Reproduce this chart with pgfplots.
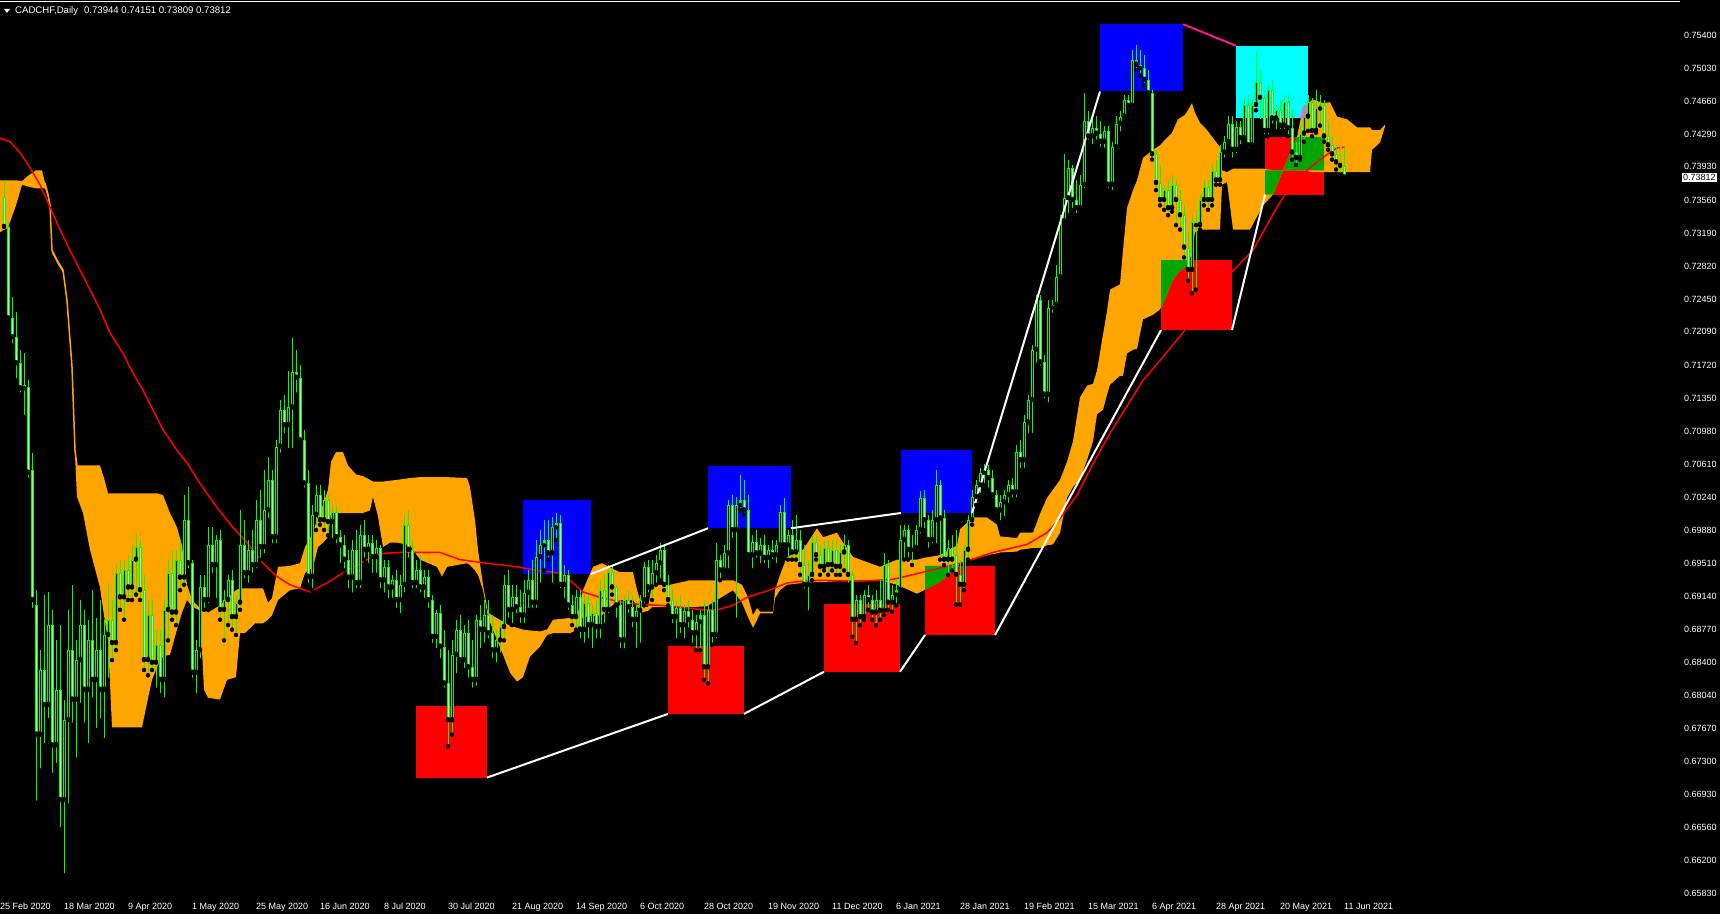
\documentclass[border=0pt]{standalone}
\usepackage{fontspec}
\setmainfont{Liberation Sans}
\usepackage{pgfplots}
\usepackage{pgfplotstable}
\pgfplotsset{compat=1.18}
\usepgfplotslibrary{fillbetween}

\definecolor{bar}{RGB}{0,255,0}
\definecolor{bearfill}{RGB}{200,245,200}
\definecolor{kumo}{RGB}{255,165,0}
\definecolor{kumored}{RGB}{0,165,0}
\definecolor{kumocyan}{RGB}{255,90,255}
\definecolor{boxred}{RGB}{255,0,0}
\definecolor{boxblue}{RGB}{0,0,255}
\definecolor{boxcyan}{RGB}{0,255,255}
\definecolor{deeppink}{RGB}{255,20,147}
\newcommand\mt{\fontsize{9}{10}\selectfont}

% daily OHLC, x = bar position on the chart
\pgfplotstableread{
x o h l c
4 0.7359 0.7378 0.7320 0.7326
8 0.7326 0.7332 0.7220 0.7224
12 0.7224 0.7248 0.7194 0.7203
16 0.7203 0.7231 0.7155 0.7174
20 0.7174 0.7189 0.7139 0.7146
24 0.7146 0.7185 0.7114 0.7150
28 0.7148 0.7155 0.7044 0.7052
32 0.7055 0.7074 0.6899 0.6910
36 0.6904 0.6921 0.6684 0.6760
40 0.6760 0.6854 0.6720 0.6832
44 0.6832 0.6916 0.6748 0.6793
48 0.6793 0.6919 0.6776 0.6882
52 0.6882 0.6899 0.6715 0.6748
56 0.6748 0.6865 0.6726 0.6810
60 0.6810 0.6882 0.6654 0.6687
64 0.6687 0.6799 0.6603 0.6776
68 0.6776 0.6899 0.6681 0.6854
72 0.6854 0.6927 0.6771 0.6799
76 0.6799 0.6865 0.6732 0.6843
80 0.6843 0.6910 0.6793 0.6882
84 0.6882 0.6899 0.6771 0.6810
88 0.6810 0.6888 0.6748 0.6865
92 0.6865 0.6921 0.6799 0.6821
96 0.6821 0.6890 0.6765 0.6854
100 0.6854 0.6910 0.6776 0.6810
104 0.6810 0.6888 0.6754 0.6871
108 0.6871 0.6929 0.6821 0.6888
112 0.6888 0.6910 0.6843 0.6862
116 0.6862 0.6949 0.6854 0.6940
120 0.6940 0.6955 0.6899 0.6913
124 0.6913 0.6955 0.6888 0.6943
128 0.6943 0.6960 0.6910 0.6924
132 0.6924 0.6971 0.6910 0.6955
136 0.6955 0.6985 0.6916 0.6969
140 0.6969 0.6977 0.6910 0.6921
144 0.6921 0.6938 0.6832 0.6843
148 0.6843 0.6910 0.6826 0.6893
152 0.6893 0.6910 0.6832 0.6840
156 0.6840 0.6877 0.6810 0.6860
160 0.6860 0.6877 0.6804 0.6821
164 0.6821 0.6910 0.6799 0.6899
168 0.6899 0.6955 0.6865 0.6940
172 0.6940 0.6966 0.6888 0.6896
176 0.6896 0.6966 0.6882 0.6955
180 0.6955 0.6977 0.6921 0.6935
184 0.6935 0.7027 0.6927 0.6999
188 0.6999 0.7036 0.6943 0.6951
192 0.6951 0.6955 0.6821 0.6829
196 0.6829 0.6865 0.6804 0.6854
200 0.6854 0.6938 0.6843 0.6924
204 0.6924 0.6938 0.6899 0.6910
208 0.6910 0.6991 0.6904 0.6971
212 0.6971 0.6991 0.6938 0.6949
216 0.6949 0.6982 0.6910 0.6977
220 0.6977 0.6988 0.6888 0.6899
224 0.6899 0.6921 0.6865 0.6910
228 0.6910 0.6938 0.6882 0.6932
232 0.6932 0.6943 0.6877 0.6891
236 0.6891 0.6916 0.6871 0.6907
240 0.6907 0.7010 0.6899 0.6971
244 0.6971 0.6999 0.6932 0.6940
248 0.6940 0.6977 0.6927 0.6966
252 0.6966 0.6988 0.6938 0.6949
256 0.6949 0.7022 0.6943 0.6999
260 0.6999 0.7033 0.6955 0.6969
264 0.6969 0.7055 0.6960 0.7010
268 0.7010 0.7069 0.6999 0.7044
272 0.7044 0.7055 0.6971 0.6980
276 0.6980 0.7088 0.6971 0.7081
280 0.7081 0.7133 0.7072 0.7122
284 0.7122 0.7139 0.7094 0.7105
288 0.7105 0.7165 0.7077 0.7125
292 0.7125 0.7202 0.7077 0.7164
296 0.7164 0.7189 0.7139 0.7158
300 0.7158 0.7172 0.7083 0.7088
304 0.7088 0.7100 0.7033 0.7040
308 0.7040 0.7055 0.6927 0.6936
312 0.6936 0.7016 0.6921 0.7005
316 0.7005 0.7038 0.6988 0.7027
320 0.7027 0.7038 0.6994 0.6999
324 0.6999 0.7033 0.6988 0.7022
328 0.7022 0.7027 0.6982 0.6997
332 0.6997 0.7016 0.6977 0.7008
336 0.7008 0.7016 0.6971 0.6980
340 0.6980 0.6988 0.6949 0.6971
344 0.6971 0.6982 0.6943 0.6955
348 0.6955 0.6966 0.6921 0.6935
352 0.6935 0.6977 0.6916 0.6966
356 0.6966 0.6988 0.6921 0.6929
360 0.6929 0.6994 0.6921 0.6982
364 0.6982 0.6999 0.6955 0.6966
368 0.6966 0.6982 0.6949 0.6974
372 0.6974 0.6982 0.6938 0.6958
376 0.6958 0.6977 0.6938 0.6968
380 0.6968 0.6971 0.6921 0.6932
384 0.6932 0.6955 0.6916 0.6947
388 0.6947 0.6955 0.6910 0.6924
392 0.6924 0.6938 0.6910 0.6932
396 0.6932 0.6943 0.6899 0.6910
400 0.6910 0.6938 0.6893 0.6927
404 0.6927 0.7005 0.6916 0.6994
408 0.6994 0.7010 0.6955 0.6966
412 0.6966 0.6977 0.6921 0.6929
416 0.6929 0.6955 0.6921 0.6943
420 0.6943 0.6960 0.6916 0.6924
424 0.6924 0.6943 0.6910 0.6936
428 0.6936 0.6943 0.6899 0.6910
432 0.6910 0.6916 0.6860 0.6869
436 0.6869 0.6899 0.6854 0.6896
440 0.6896 0.6904 0.6843 0.6858
444 0.6858 0.6877 0.6810 0.6817
448 0.6817 0.6854 0.6747 0.6776
452 0.6776 0.6865 0.6760 0.6849
456 0.6849 0.6888 0.6826 0.6877
460 0.6877 0.6893 0.6838 0.6843
464 0.6843 0.6882 0.6832 0.6873
468 0.6873 0.6888 0.6821 0.6835
472 0.6835 0.6865 0.6810 0.6821
476 0.6821 0.6893 0.6812 0.6888
480 0.6888 0.6904 0.6854 0.6877
484 0.6877 0.6910 0.6860 0.6893
488 0.6893 0.6910 0.6865 0.6873
492 0.6873 0.6893 0.6843 0.6854
496 0.6854 0.6877 0.6838 0.6865
500 0.6865 0.6888 0.6849 0.6880
504 0.6880 0.6938 0.6865 0.6927
508 0.6927 0.6943 0.6888 0.6899
512 0.6899 0.6927 0.6882 0.6913
516 0.6913 0.6927 0.6893 0.6902
520 0.6902 0.6921 0.6882 0.6893
524 0.6893 0.6932 0.6882 0.6918
528 0.6918 0.6943 0.6899 0.6932
532 0.6932 0.6955 0.6899 0.6907
536 0.6907 0.6977 0.6899 0.6958
540 0.6958 0.6988 0.6927 0.6971
544 0.6971 0.6999 0.6943 0.6977
548 0.6977 0.6999 0.6955 0.6962
552 0.6962 0.7003 0.6927 0.6991
556 0.6991 0.7007 0.6977 0.6996
560 0.6996 0.7005 0.6921 0.6927
564 0.6927 0.6949 0.6910 0.6938
568 0.6938 0.6943 0.6897 0.6904
572 0.6904 0.6916 0.6882 0.6891
576 0.6891 0.6921 0.6877 0.6913
580 0.6913 0.6921 0.6865 0.6877
584 0.6877 0.6916 0.6860 0.6907
588 0.6907 0.6916 0.6865 0.6882
592 0.6882 0.6904 0.6854 0.6896
596 0.6896 0.6910 0.6865 0.6880
600 0.6880 0.6932 0.6865 0.6921
604 0.6921 0.6938 0.6882 0.6899
608 0.6899 0.6949 0.6893 0.6941
612 0.6941 0.6949 0.6916 0.6924
616 0.6924 0.6927 0.6888 0.6904
620 0.6904 0.6910 0.6854 0.6865
624 0.6865 0.6916 0.6854 0.6910
628 0.6910 0.6921 0.6893 0.6902
632 0.6902 0.6916 0.6877 0.6888
636 0.6888 0.6904 0.6854 0.6898
640 0.6898 0.6916 0.6860 0.6910
644 0.6910 0.6952 0.6904 0.6947
648 0.6947 0.6955 0.6916 0.6924
652 0.6924 0.6955 0.6910 0.6940
656 0.6940 0.6960 0.6927 0.6951
660 0.6951 0.6974 0.6932 0.6966
664 0.6966 0.6971 0.6921 0.6927
668 0.6927 0.6938 0.6904 0.6910
672 0.6910 0.6921 0.6882 0.6891
676 0.6891 0.6910 0.6865 0.6901
680 0.6901 0.6916 0.6871 0.6882
684 0.6882 0.6904 0.6865 0.6898
688 0.6898 0.6910 0.6877 0.6888
692 0.6888 0.6899 0.6860 0.6873
696 0.6873 0.6893 0.6854 0.6886
700 0.6886 0.6899 0.6854 0.6893
704 0.6893 0.6910 0.6821 0.6835
708 0.6835 0.6904 0.6817 0.6899
712 0.6899 0.6910 0.6860 0.6871
716 0.6871 0.6974 0.6865 0.6955
720 0.6955 0.6960 0.6932 0.6943
724 0.6943 0.6971 0.6938 0.6962
728 0.6962 0.7022 0.6943 0.7016
732 0.7016 0.7027 0.6977 0.6988
736 0.6988 0.7025 0.6888 0.7016
740 0.7016 0.7049 0.7010 0.7022
744 0.7022 0.7044 0.7005 0.7010
748 0.7010 0.7027 0.6955 0.6960
752 0.6960 0.6982 0.6943 0.6975
756 0.6975 0.6988 0.6955 0.6962
760 0.6962 0.6979 0.6949 0.6971
764 0.6971 0.6982 0.6949 0.6957
768 0.6957 0.6971 0.6943 0.6966
772 0.6966 0.6977 0.6953 0.6960
776 0.6960 0.6977 0.6949 0.6971
780 0.6971 0.7016 0.6966 0.7008
784 0.7008 0.7024 0.6966 0.6971
788 0.6971 0.6988 0.6955 0.6982
792 0.6982 0.6999 0.6955 0.6963
796 0.6963 0.7005 0.6955 0.6977
800 0.6977 0.6988 0.6938 0.6949
804 0.6949 0.6971 0.6921 0.6927
808 0.6927 0.6955 0.6896 0.6938
812 0.6938 0.6982 0.6932 0.6975
816 0.6975 0.6982 0.6955 0.6960
820 0.6960 0.6971 0.6938 0.6947
824 0.6947 0.6977 0.6943 0.6968
828 0.6968 0.6977 0.6938 0.6949
832 0.6949 0.6977 0.6943 0.6966
836 0.6966 0.6977 0.6938 0.6947
840 0.6947 0.6971 0.6938 0.6963
844 0.6963 0.6982 0.6943 0.6971
848 0.6971 0.6977 0.6927 0.6938
852 0.6938 0.6943 0.6869 0.6888
856 0.6888 0.6916 0.6862 0.6910
860 0.6910 0.6916 0.6882 0.6891
864 0.6891 0.6921 0.6888 0.6916
868 0.6916 0.6927 0.6899 0.6910
872 0.6910 0.6916 0.6888 0.6896
876 0.6896 0.6921 0.6882 0.6910
880 0.6910 0.6932 0.6888 0.6898
884 0.6898 0.6962 0.6893 0.6949
888 0.6949 0.6955 0.6899 0.6907
892 0.6907 0.6927 0.6897 0.6916
896 0.6916 0.6932 0.6904 0.6921
900 0.6921 0.6994 0.6916 0.6977
904 0.6977 0.6994 0.6955 0.6988
908 0.6988 0.6994 0.6955 0.6966
912 0.6966 0.6982 0.6949 0.6968
916 0.6968 0.6994 0.6966 0.6988
920 0.6988 0.7031 0.6982 0.7024
924 0.7024 0.7033 0.6988 0.6999
928 0.6999 0.7005 0.6966 0.6977
932 0.6977 0.7010 0.6971 0.6999
936 0.6999 0.7055 0.6971 0.7038
940 0.7038 0.7044 0.6955 0.7001
944 0.7001 0.7010 0.6949 0.6955
948 0.6955 0.6977 0.6938 0.6968
952 0.6968 0.6982 0.6943 0.6955
956 0.6960 0.6988 0.6905 0.6938
960 0.6938 0.6955 0.6905 0.6927
964 0.6927 0.6971 0.6921 0.6966
968 0.6966 0.7005 0.6955 0.6999
972 0.6999 0.7033 0.6994 0.7025
976 0.7025 0.7044 0.7016 0.7038
980 0.7038 0.7057 0.7027 0.7052
984 0.7052 0.7062 0.7038 0.7055
988 0.7055 0.7060 0.7033 0.7046
992 0.7046 0.7055 0.7022 0.7027
996 0.7027 0.7033 0.7005 0.7010
1000 0.7010 0.7027 0.6997 0.7019
1004 0.7019 0.7033 0.7001 0.7027
1008 0.7027 0.7044 0.7016 0.7038
1012 0.7038 0.7046 0.7022 0.7030
1016 0.7030 0.7083 0.7022 0.7075
1020 0.7075 0.7088 0.7055 0.7066
1024 0.7066 0.7116 0.7055 0.7108
1028 0.7108 0.7139 0.7094 0.7133
1032 0.7133 0.7194 0.7094 0.7189
1036 0.7189 0.7250 0.7172 0.7245
1040 0.7245 0.7250 0.7169 0.7175
1044 0.7175 0.7183 0.7133 0.7139
1048 0.7139 0.7245 0.7128 0.7236
1052 0.7236 0.7245 0.7228 0.7239
1056 0.7239 0.7284 0.7234 0.7270
1060 0.7270 0.7339 0.7266 0.7332
1064 0.7332 0.7407 0.7328 0.7358
1068 0.7358 0.7401 0.7339 0.7392
1072 0.7392 0.7395 0.7345 0.7356
1076 0.7356 0.7378 0.7339 0.7347
1080 0.7347 0.7384 0.7343 0.7373
1084 0.7373 0.7475 0.7367 0.7444
1088 0.7444 0.7455 0.7421 0.7427
1092 0.7427 0.7450 0.7416 0.7436
1096 0.7436 0.7450 0.7421 0.7430
1100 0.7430 0.7444 0.7413 0.7421
1104 0.7421 0.7438 0.7412 0.7433
1108 0.7433 0.7438 0.7367 0.7373
1112 0.7373 0.7421 0.7365 0.7415
1116 0.7415 0.7450 0.7412 0.7441
1120 0.7441 0.7455 0.7430 0.7449
1124 0.7449 0.7473 0.7444 0.7468
1128 0.7468 0.7473 0.7456 0.7461
1132 0.7461 0.7523 0.7456 0.7512
1136 0.7512 0.7529 0.7501 0.7507
1140 0.7507 0.7523 0.7495 0.7503
1144 0.7503 0.7518 0.7484 0.7490
1148 0.7490 0.7501 0.7470 0.7475
1152 0.7475 0.7479 0.7401 0.7407
1156 0.7407 0.7412 0.7367 0.7375
1160 0.7375 0.7395 0.7350 0.7356
1164 0.7356 0.7373 0.7345 0.7367
1168 0.7367 0.7378 0.7339 0.7347
1172 0.7347 0.7384 0.7343 0.7373
1176 0.7373 0.7378 0.7328 0.7356
1180 0.7356 0.7367 0.7323 0.7339
1184 0.7339 0.7350 0.7292 0.7303
1188 0.7303 0.7320 0.7266 0.7278
1192 0.7278 0.7339 0.7252 0.7332
1196 0.7332 0.7345 0.7256 0.7328
1200 0.7328 0.7362 0.7323 0.7356
1204 0.7356 0.7378 0.7350 0.7371
1208 0.7371 0.7378 0.7345 0.7356
1212 0.7356 0.7395 0.7350 0.7388
1216 0.7388 0.7401 0.7373 0.7378
1220 0.7378 0.7417 0.7373 0.7409
1224 0.7409 0.7427 0.7401 0.7421
1228 0.7421 0.7450 0.7416 0.7441
1232 0.7441 0.7450 0.7401 0.7412
1236 0.7412 0.7444 0.7406 0.7437
1240 0.7437 0.7444 0.7416 0.7425
1244 0.7425 0.7468 0.7421 0.7462
1248 0.7462 0.7473 0.7412 0.7417
1252 0.7417 0.7468 0.7414 0.7462
1256 0.7462 0.7521 0.7456 0.7488
1260 0.7488 0.7501 0.7444 0.7470
1264 0.7470 0.7473 0.7427 0.7433
1268 0.7433 0.7484 0.7427 0.7479
1272 0.7479 0.7490 0.7439 0.7447
1276 0.7447 0.7462 0.7433 0.7456
1280 0.7456 0.7468 0.7433 0.7439
1284 0.7439 0.7473 0.7433 0.7465
1288 0.7465 0.7473 0.7427 0.7436
1292 0.7436 0.7456 0.7401 0.7409
1296 0.7409 0.7421 0.7395 0.7403
1300 0.7403 0.7438 0.7401 0.7430
1304 0.7430 0.7462 0.7421 0.7449
1308 0.7449 0.7473 0.7433 0.7465
1312 0.7465 0.7470 0.7427 0.7433
1316 0.7433 0.7479 0.7431 0.7458
1320 0.7458 0.7473 0.7439 0.7462
1324 0.7462 0.7468 0.7421 0.7427
1328 0.7427 0.7444 0.7412 0.7417
1332 0.7417 0.7427 0.7401 0.7407
1336 0.7407 0.7417 0.7390 0.7398
1340 0.7398 0.7412 0.7384 0.7394
1344 0.73944 0.74151 0.73809 0.73812
}\candles

% ichimoku cloud edges
\pgfplotstableread{
x u l
0 0.7378 0.7320
8 0.7378 0.7325
16 0.7378 0.7350
22 0.7377 0.7373
28 0.7383 0.7371
36 0.7389 0.7369
42 0.7389 0.7369
45 0.7375 0.7369
48 0.7362 0.7359
50 0.7350 0.7347
52 0.7300 0.7297
58 0.7287 0.7284
63 0.7278 0.7275
67 0.7244 0.7241
72 0.7170 0.7166
75 0.7077 0.7072
77 0.7060 0.7025
83 0.7060 0.7007
90 0.7060 0.6966
100 0.7060 0.6924
104 0.7046 0.6893
108 0.7029 0.6865
112 0.7029 0.6768
142 0.7029 0.6768
147 0.7029 0.6795
152 0.7029 0.6821
157 0.7029 0.6835
163 0.7027 0.6847
170 0.7007 0.6849
177 0.6991 0.6877
182 0.6971 0.6896
187 0.6927 0.6910
192 0.6910 0.6903
200 0.6901 0.6898
204 0.6899 0.6810
208 0.6896 0.6801
220 0.6904 0.6799
227 0.6912 0.6821
236 0.6921 0.6824
240 0.6923 0.6873
245 0.6923 0.6873
255 0.6923 0.6884
263 0.6923 0.6884
268 0.6907 0.6888
272 0.6912 0.6893
278 0.6947 0.6910
290 0.6948 0.6921
300 0.6951 0.6923
305 0.6969 0.6940
313 0.6985 0.6947
318 0.7003 0.6969
323 0.7016 0.6974
328 0.7033 0.6980
331 0.7064 0.7007
336 0.7075 0.7007
343 0.7075 0.7007
348 0.7060 0.7007
356 0.7050 0.7007
363 0.7048 0.7007
370 0.7044 0.7010
373 0.7042 0.7025
378 0.7042 0.7003
383 0.7042 0.6969
390 0.7043 0.6974
397 0.7044 0.6974
410 0.7046 0.6971
420 0.7047 0.6955
437 0.7047 0.6947
442 0.7047 0.6936
447 0.7047 0.6947
467 0.7046 0.6951
470 0.7036 0.6949
475 0.6999 0.6943
478 0.6966 0.6938
483 0.6927 0.6921
488 0.6896 0.6891
495 0.6891 0.6871
503 0.6886 0.6849
510 0.6881 0.6829
517 0.6879 0.6819
523 0.6877 0.6824
530 0.6876 0.6847
540 0.6875 0.6858
547 0.6877 0.6871
553 0.6888 0.6873
570 0.6890 0.6873
577 0.6891 0.6877
583 0.6921 0.6891
593 0.6947 0.6892
602 0.6951 0.6893
610 0.6946 0.6902
620 0.6941 0.6910
633 0.6941 0.6910
637 0.6921 0.6903
642 0.6903 0.6896
648 0.6902 0.6898
652 0.6927 0.6902
670 0.6927 0.6902
690 0.6932 0.6902
707 0.6932 0.6903
733 0.6932 0.6921
742 0.6927 0.6907
748 0.6913 0.6891
753 0.6893 0.6879
757 0.6901 0.6888
760 0.6897 0.6895
773 0.6897 0.6895
775 0.6921 0.6912
780 0.6938 0.6921
787 0.6958 0.6927
803 0.6966 0.6929
817 0.6990 0.6930
823 0.6980 0.6930
837 0.6985 0.6931
843 0.6974 0.6931
853 0.6958 0.6932
870 0.6951 0.6932
880 0.6947 0.6932
897 0.6955 0.6927
917 0.6955 0.6917
924 0.6957 0.6921
940 0.6960 0.6930
957 0.6971 0.6946
960 0.6989 0.6951
973 0.7002 0.6955
987 0.7002 0.6960
997 0.6994 0.6962
1000 0.6981 0.6963
1017 0.6979 0.6964
1020 0.6985 0.6966
1033 0.6985 0.6968
1040 0.7006 0.6968
1047 0.7024 0.6971
1053 0.7033 0.6972
1060 0.7044 0.6985
1067 0.7064 0.7024
1073 0.7087 0.7036
1080 0.7136 0.7045
1087 0.7149 0.7066
1093 0.7151 0.7087
1097 0.7166 0.7117
1103 0.7206 0.7122
1107 0.7232 0.7139
1110 0.7256 0.7150
1120 0.7262 0.7160
1123 0.7300 0.7160
1127 0.7347 0.7185
1133 0.7367 0.7189
1137 0.7378 0.7190
1143 0.7403 0.7223
1153 0.7412 0.7228
1160 0.7417 0.7234
1165 0.7423 0.7245
1172 0.7431 0.7265
1178 0.7446 0.7275
1185 0.7451 0.7281
1190 0.7460 0.7289
1192 0.7464 0.7300
1195 0.7453 0.7320
1200 0.7442 0.7323
1207 0.7434 0.7323
1213 0.7425 0.7323
1220 0.7415 0.7323
1222 0.7389 0.7373
1227 0.7387 0.7376
1233 0.7391 0.7323
1250 0.7391 0.7323
1263 0.7391 0.7350
1273 0.7389 0.7362
1283 0.7389 0.7389
1297 0.7426 0.7389
1303 0.7460 0.7389
1313 0.7468 0.7387
1323 0.7464 0.7387
1330 0.7465 0.7387
1337 0.7449 0.7387
1347 0.7446 0.7387
1357 0.7437 0.7387
1370 0.7437 0.7387
1372 0.7434 0.7412
1380 0.7434 0.7420
1385 0.7440 0.7438
}\cloud

% moving average
\pgfplotstableread{
x ma
0 0.7425
10 0.7421
20 0.7409
30 0.7392
40 0.7373
50 0.7348
60 0.7323
70 0.7300
80 0.7278
90 0.7256
100 0.7234
110 0.7208
123 0.7185
133 0.7163
143 0.7144
153 0.7122
163 0.7100
177 0.7077
187 0.7063
200 0.7040
217 0.7013
233 0.6991
247 0.6974
263 0.6951
277 0.6936
290 0.6927
310 0.6919
327 0.6929
347 0.6943
367 0.6955
383 0.6962
400 0.6963
440 0.6963
460 0.6955
487 0.6951
517 0.6947
537 0.6943
560 0.6940
570 0.6932
583 0.6919
600 0.6913
620 0.6908
640 0.6905
660 0.6904
680 0.6902
703 0.6899
717 0.6899
733 0.6904
747 0.6913
767 0.6920
787 0.6929
803 0.6931
820 0.6932
860 0.6931
893 0.6933
927 0.6942
960 0.6951
993 0.6963
1027 0.6972
1047 0.6985
1060 0.7001
1077 0.7027
1093 0.7062
1110 0.7096
1127 0.7126
1143 0.7155
1160 0.7177
1185 0.7211
1210 0.7244
1232 0.7276
1253 0.7300
1267 0.7328
1277 0.7348
1285 0.7362
1307 0.7389
1320 0.7401
1330 0.7409
1337 0.7414
}\ma

\begin{document}
\begin{tikzpicture}
\fill[black] (0,-18pt) rectangle (1720pt,896pt);
\begin{axis}[
    scale only axis, width=1680pt, height=894pt,
    xmin=0, xmax=1680, ymin=0.657996, ymax=0.757677,
    clip=false,
    axis x line*=bottom, axis y line*=right,
    axis line style={white, line width=1pt},
    tick align=outside, major tick length=4pt,
    tick style={white, line width=1pt},
    xtick={0,64,...,1344},
    xticklabels={25 Feb 2020,18 Mar 2020,9 Apr 2020,1 May 2020,25 May 2020,16 Jun 2020,8 Jul 2020,30 Jul 2020,21 Aug 2020,14 Sep 2020,6 Oct 2020,28 Oct 2020,19 Nov 2020,11 Dec 2020,6 Jan 2021,28 Jan 2021,19 Feb 2021,15 Mar 2021,6 Apr 2021,28 Apr 2021,20 May 2021,11 Jun 2021},
    ytick={0.754,0.7503,0.7466,0.7429,0.7393,0.7356,0.7319,0.7282,0.7245,0.7209,0.7172,0.7135,0.7098,0.7061,0.7024,0.6988,0.6951,0.6914,0.6877,0.684,0.6804,0.6767,0.673,0.6693,0.6656,0.662,0.6583},
    yticklabels={0.75400,0.75030,0.74660,0.74290,0.73930,0.73560,0.73190,0.72820,0.72450,0.72090,0.71720,0.71350,0.70980,0.70610,0.70240,0.69880,0.69510,0.69140,0.68770,0.68400,0.68040,0.67670,0.67300,0.66930,0.66560,0.66200,0.65830},
    xticklabel style={anchor=north west, inner sep=0pt, yshift=-3pt, text=white, font=\mt},
    yticklabel style={anchor=west, inner sep=0pt, text=white, font=\mt},
]
% boxes
\addplot[fill=boxred, draw=none] coordinates {(416,0.6712)(487,0.6712)(487,0.6792)(416,0.6792)};
\addplot[fill=boxred, draw=none] coordinates {(668,0.6783)(744,0.6783)(744,0.6859)(668,0.6859)};
\addplot[fill=boxred, draw=none] coordinates {(824,0.6830)(900,0.6830)(900,0.6905)(824,0.6905)};
\addplot[fill=boxred, draw=none] coordinates {(925,0.6871)(995,0.6871)(995,0.6948)(925,0.6948)};
\addplot[fill=boxred, draw=none] coordinates {(1161,0.7211)(1232,0.7211)(1232,0.7289)(1161,0.7289)};
\addplot[fill=boxred, draw=none] coordinates {(1265,0.7362)(1324,0.7362)(1324,0.7426)(1265,0.7426)};
\addplot[fill=boxblue, draw=none] coordinates {(523,0.6939)(591,0.6939)(591,0.7022)(523,0.7022)};
\addplot[fill=boxblue, draw=none] coordinates {(708,0.6990)(791,0.6990)(791,0.7059)(708,0.7059)};
\addplot[fill=boxblue, draw=none] coordinates {(901,0.7007)(972,0.7007)(972,0.7077)(901,0.7077)};
\addplot[fill=boxblue, draw=none] coordinates {(1100,0.7477)(1183,0.7477)(1183,0.7552)(1100,0.7552)};
\addplot[fill=boxcyan, draw=none] coordinates {(1236,0.7447)(1308,0.7447)(1308,0.7528)(1236,0.7528)};
% cloud
\addplot[name path=cu, draw=none, forget plot] table[x=x, y=u] {\cloud};
\addplot[name path=cl, draw=none, forget plot] table[x=x, y=l] {\cloud};
\addplot[fill=kumo, draw=none] fill between[of=cu and cl, on layer=main];
\addplot[kumo, line width=1.5pt, x filter/.expression={(x>44 && x<78) ? x : nan}] table[x=x, y=u] {\cloud};
% cloud seen through the boxes
\addplot[fill=kumored, draw=none] coordinates {(925,0.6948)(960,0.6948)(957,0.6946)(940,0.6930)(925,0.6921)};
\addplot[fill=kumored, draw=none] coordinates {(1161,0.7289)(1190,0.7289)(1185,0.7281)(1178,0.7275)(1172,0.7265)(1165,0.7245)(1161,0.7234)};
\addplot[fill=kumored, draw=none] coordinates {(1265,0.7389)(1283,0.7389)(1273,0.7362)(1265,0.7362)};
\addplot[fill=kumored, draw=none] coordinates {(1283,0.7389)(1297,0.7426)(1324,0.7426)(1324,0.7389)};
\addplot[fill=kumocyan, draw=none] coordinates {(1300,0.7447)(1303,0.7460)(1308,0.7464)(1308,0.7447)};
% moving average
\addplot[boxred, line width=1.5pt] table[x=x, y=ma] {\ma};
\addplot[boxred, line width=1.5pt, dash pattern=on 3pt off 2pt] coordinates {(1337,0.7414)(1346,0.7415)};
% candles: wicks, bodies, body fills
\addplot[only marks, mark=none, error bars/.cd, y dir=plus, y explicit, error mark=none,
    error bar style={line width=1pt, color=bar}]
    table[x=x, y=l, y error expr={\thisrow{h}-\thisrow{l}}] {\candles};
\addplot[only marks, mark=none, error bars/.cd, y dir=plus, y explicit, error mark=none,
    error bar style={line width=3pt, color=bar}]
    table[x=x, y expr={min(\thisrow{o},\thisrow{c})}, y error expr={max(abs(\thisrow{c}-\thisrow{o}),0.00012)}] {\candles};
\addplot[only marks, mark=none,
    x filter/.expression={(\thisrow{o}-\thisrow{c}>0.0004) ? x : nan},
    error bars/.cd, y dir=plus, y explicit, error mark=none,
    error bar style={line width=1pt, color=bearfill}]
    table[x=x, y expr={\thisrow{c}+0.00011}, y error expr={\thisrow{o}-\thisrow{c}-0.00022}] {\candles};
\addplot[only marks, mark=none,
    x filter/.expression={(\thisrow{c}-\thisrow{o}>0.0007) ? x : nan},
    error bars/.cd, y dir=plus, y explicit, error mark=none,
    error bar style={line width=1pt, color=black}]
    table[x=x, y expr={\thisrow{o}+0.00011}, y error expr={\thisrow{c}-\thisrow{o}-0.00022}] {\candles};
% trend lines between the boxes
\addplot[white, line width=2pt] coordinates {(487,0.6712)(668,0.6783)};
\addplot[white, line width=2pt] coordinates {(744,0.6783)(824,0.6830)};
\addplot[white, line width=2pt] coordinates {(900,0.6830)(925,0.6871)};
\addplot[white, line width=2pt] coordinates {(995,0.6871)(1161,0.7211)};
\addplot[white, line width=2pt] coordinates {(1232,0.7211)(1265,0.7362)};
\addplot[white, line width=2pt] coordinates {(591,0.6939)(708,0.6990)};
\addplot[white, line width=2pt] coordinates {(791,0.6990)(901,0.7007)};
\addplot[white, line width=2pt] coordinates {(972,0.7007)(1100,0.7477)};
\addplot[deeppink, line width=2pt] coordinates {(1183,0.7552)(1236,0.7528)};
% frame top and last price
\draw[white, line width=1pt] (rel axis cs:0,1) -- (rel axis cs:1,1);
\node[fill=white, text=black, anchor=west, inner xsep=1pt, inner ysep=1.5pt, font=\mt] at (axis cs:1682,0.73812) {0.73812};
\end{axis}
\fill[white] (4pt,887pt) -- (10pt,887pt) -- (7pt,883pt) -- cycle;
\node[anchor=west, inner sep=0pt, text=white, font=\fontsize{9.6}{11}\selectfont] at (15pt,885pt) {CADCHF,Daily\hspace{6pt}0.73944 0.74151 0.73809 0.73812};
\pgfresetboundingbox
\path[use as bounding box] (0,-18pt) rectangle (1720pt,896pt);
\end{tikzpicture}
\end{document}
